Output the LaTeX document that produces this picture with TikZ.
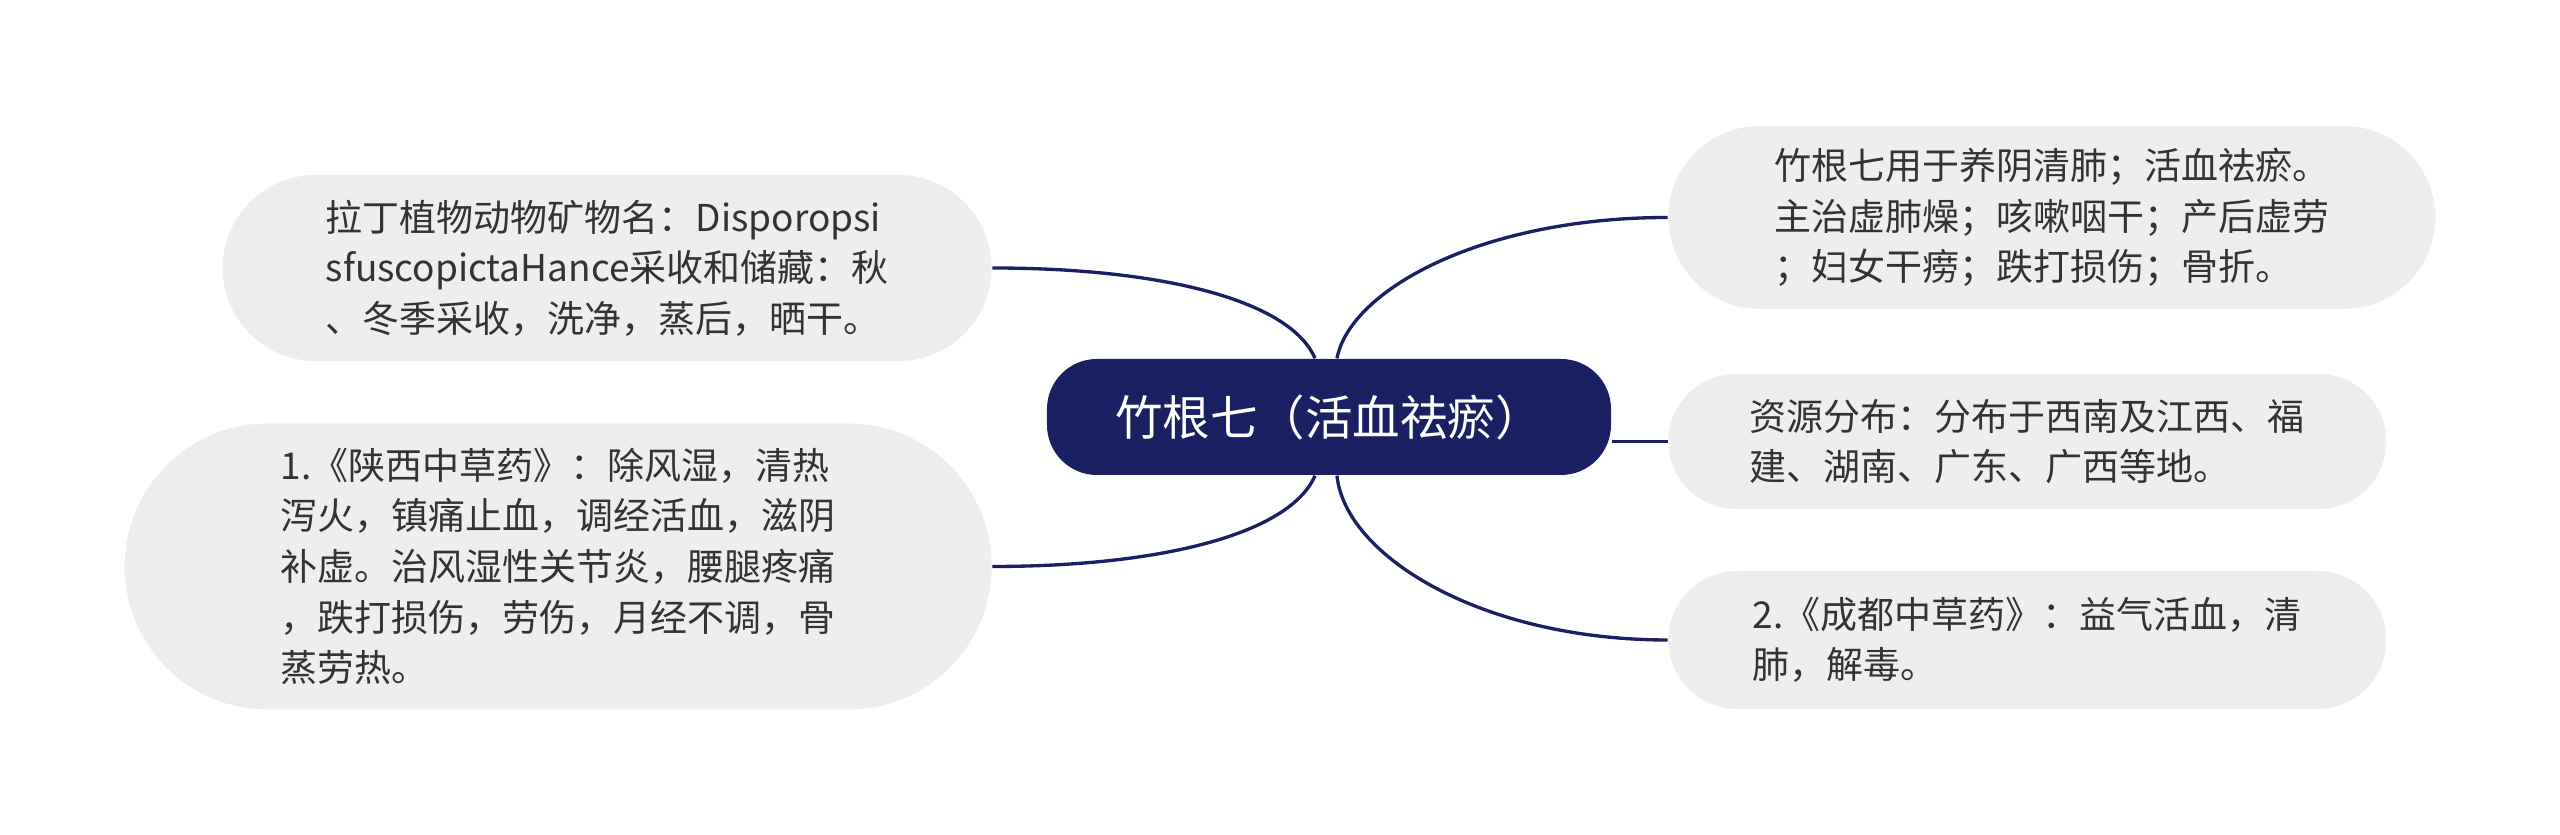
\documentclass[tikz,border=0pt]{standalone}
\usepackage{fontspec}
\setmainfont{Noto Sans CJK SC}
\usetikzlibrary{positioning}
\usepackage{xcolor}
\definecolor{navy}{RGB}{27,32,98}
\definecolor{leafgray}{RGB}{238,238,238}
\definecolor{textgray}{RGB}{51,51,51}

\begin{document}
\begin{tikzpicture}[
  font=\fontsize{11.1pt}{15.2pt}\selectfont,
  hub/.style={fill=navy,text=white,rounded corners=15pt,minimum width=169.2pt,minimum height=34.8pt,inner sep=0pt,font=\fontsize{14.25pt}{17pt}\selectfont},
  leaf/.style={fill=leafgray,text=textgray,align=left,inner sep=0pt},
  link/.style={navy,line width=1pt},
]
\useasboundingbox (-398.7pt,125.1pt) rectangle (369.3pt,-125.4pt);
% centre
\node[hub] (root) at (0,0) {竹根七（活血祛瘀）};
% left branches
\node[leaf,left=16.2pt of root,yshift=44.7pt,minimum width=230.7pt,minimum height=55.8pt,rounded corners=27.9pt] (latin) {拉丁植物动物矿物名：Disporopsi\\sfuscopictaHance采收和储藏：秋\\、冬季采收，洗净，蒸后，晒干。};
\node[leaf,left=16.2pt of root,yshift=-44.85pt,minimum width=260.1pt,minimum height=85.8pt,rounded corners=42.9pt] (shaanxi) {1.《陕西中草药》：除风湿，清热\\泻火，镇痛止血，调经活血，滋阴\\补虚。治风湿性关节炎，腰腿疼痛\\，跌打损伤，劳伤，月经不调，骨\\蒸劳热。};
% right branches
\node[leaf,right=16.8pt of root,yshift=59.85pt,minimum width=230.1pt,minimum height=54.9pt,rounded corners=27.45pt] (usage) {竹根七用于养阴清肺；活血祛瘀。\\主治虚肺燥；咳嗽咽干；产后虚劳\\；妇女干痨；跌打损伤；骨折。};
\node[leaf,right=16.8pt of root,yshift=-7.35pt,minimum width=215.4pt,minimum height=40.5pt,rounded corners=20.25pt] (range) {资源分布：分布于西南及江西、福\\建、湖南、广东、广西等地。};
\node[leaf,right=16.8pt of root,yshift=-66.9pt,minimum width=215.4pt,minimum height=41.4pt,rounded corners=20.7pt] (chengdu) {2.《成都中草药》：益气活血，清\\肺，解毒。};
% links
\draw[link] (latin.east) .. controls +(51pt,0) and +(-7.5pt,17.4pt) .. ([xshift=-4.2pt]root.north);
\draw[link] (shaanxi.east) .. controls +(51pt,0) and +(-7.5pt,-17.4pt) .. ([xshift=-4.2pt]root.south);
\draw[link] ([xshift=2.4pt]root.north) .. controls +(3.9pt,20.4pt) and +(-56pt,0) .. (usage.west);
\draw[link] (root.east |- range.west) -- (range.west);
\draw[link] ([xshift=2.4pt]root.south) .. controls +(2.4pt,-24pt) and +(-56pt,0) .. (chengdu.west);
\end{tikzpicture}
\end{document}
